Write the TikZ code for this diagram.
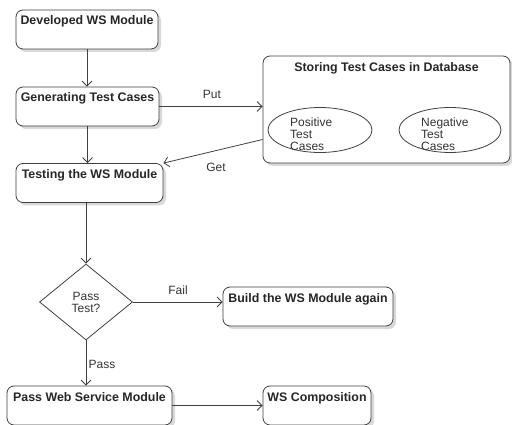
\documentclass[tikz,border=0pt]{standalone}
\usepackage{fontspec}
\setmainfont{Liberation Sans}
\usetikzlibrary{shapes.geometric,arrows.meta,shadows}
\begin{document}
\begin{tikzpicture}[x=1pt,y=-1pt,
  arr/.style={draw=black!75, line width=0.8pt, -{Straight Barb[length=5pt,width=10pt]}},
  box/.style={draw=black!75, line width=0.8pt, rounded corners=7pt, fill=white, text=black!85,
    font=\fontsize{12.4}{14}\selectfont\bfseries, text height=12pt, text depth=21pt, inner sep=3pt,
    drop shadow={shadow xshift=3pt, shadow yshift=-3pt, fill=black!15, opacity=1}},
  oval/.style={draw=black!75, line width=0.8pt, ellipse, inner sep=0pt},
  lbl/.style={text=black!80, font=\fontsize{12}{12}\selectfont, inner sep=0pt},
]
\useasboundingbox (0,0) rectangle (512,425);

\node[box, minimum width=142pt] (b1) at (87,29.5) {Developed WS Module};
\node[box, minimum width=143pt] (b2) at (87.5,106.5) {Generating Test Cases};
\node[box, minimum width=147pt] (b3) at (89.5,183) {Testing the WS Module};
\node[draw=black!75, line width=0.8pt, diamond, minimum width=93pt, minimum height=76pt, inner sep=0pt,
  align=center, text=black!80, font=\fontsize{12}{12}\selectfont] (d) at (86,302) {Pass\\Test?};
\node[box, minimum width=170pt] (b4) at (308,306.5) {Build the WS Module again};
\node[box, minimum width=165pt] (b5) at (89.5,405.5) {Pass Web Service Module};
\node[box, minimum width=108pt] (b6) at (317,405.5) {WS Composition};
\node[box, minimum width=247pt, text height=13pt, text depth=88pt] (db) at (386.5,109.5) {Storing Test Cases in Database};

\node[oval, minimum width=104pt, minimum height=45pt] (pe) at (320,130) {};
\node[oval, minimum width=102pt, minimum height=45pt] (ne) at (450,130) {};
\node[lbl, align=left, anchor=north west] (pt) at (290,118) {Positive\\Test\\Cases};
\node[lbl, align=left, anchor=north west] (nt) at (421,118) {Negative\\Test\\Cases};

\draw[arr] (b1.south) -- (b1.south |- b2.north);
\draw[arr] (b2.south) -- (b2.south |- b3.north);
\draw[arr] (b3.south -| d.north) -- (d.north);
\draw[arr] (d.south) -- (d.south |- b5.north);
\draw[arr] (d.east) -- (d.east -| b4.west);
\draw[arr] (b5.east) -- (b5.east -| b6.west);
\draw[arr] (b2.east) -- (b2.east -| db.west);
\draw[arr] ([yshift=-30pt]db.west) -- (b3.north east);

\node[lbl] (put) at (212,94) {Put};
\node[lbl] (get) at (216,167) {Get};
\node[lbl] (fail) at (178,290) {Fail};
\node[lbl] (pass) at (102,364) {Pass};
\end{tikzpicture}
\end{document}
